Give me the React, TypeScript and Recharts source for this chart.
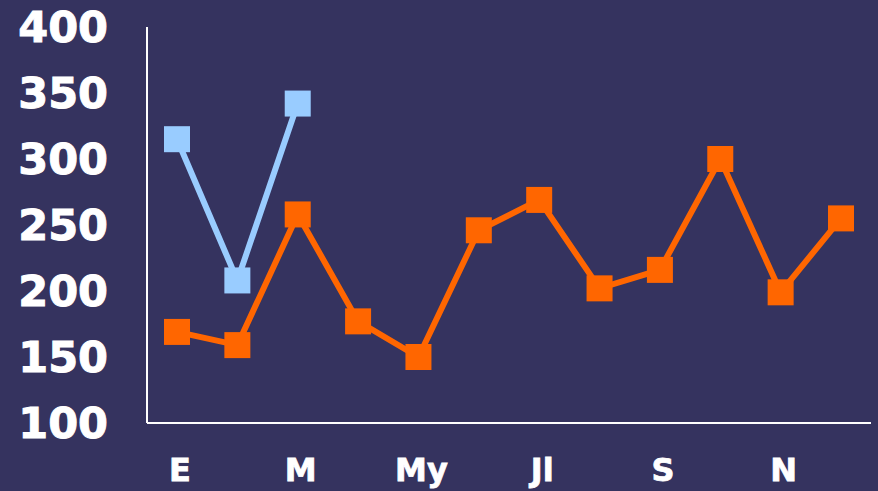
import { LineChart, Line, XAxis, YAxis } from 'recharts';

const months = ['E', 'F', 'M', 'A', 'My', 'Jn', 'Jl', 'Ag', 'S', 'O', 'N', 'D'];
const seriesOrange = [169, 159, 258, 177, 150, 246, 269, 202, 216, 300, 199, 255];
const seriesBlue: (number | null)[] = [315, 208, 342, null, null, null, null, null, null, null, null, null];
const yTicks = [100, 150, 200, 250, 300, 350, 400];

const data = months.map((m, i) => ({ month: m, orange: seriesOrange[i], blue: seriesBlue[i] }));

const SquareDot = (color: string) => (props: any) => {
  const { cx, cy, value, index } = props;
  if (value == null || cx == null || cy == null) return <g key={index} />;
  return <rect key={index} x={cx - 13} y={cy - 13} width={26} height={26} fill={color} />;
};

export default function App() {
  return (
    <div style={{ position: 'fixed', left: 0, top: 0, width: 878, height: 491, background: '#35335f' }}>
      <LineChart width={878} height={491} data={data} margin={{ top: 27, right: 7, bottom: 0, left: 0 }}>
        <XAxis
          dataKey="month"
          interval={1}
          height={68}
          padding={{ left: 30, right: 30 }}
          tickLine={false}
          tickSize={0}
          tickMargin={35}
          axisLine={{ stroke: '#ffffff', strokeWidth: 2 }}
          tick={{ fill: '#ffffff', stroke: '#ffffff', strokeWidth: 0.8, fontSize: 32, fontWeight: 'bold', fontFamily: 'DejaVu Sans', dx: 3 }}
        />
        <YAxis
          domain={[100, 400]}
          ticks={yTicks}
          width={147}
          tickLine={false}
          tickSize={0}
          tickMargin={39}
          axisLine={{ stroke: '#ffffff', strokeWidth: 2 }}
          tick={{ fill: '#ffffff', stroke: '#ffffff', strokeWidth: 1, fontSize: 43, fontWeight: 'bold', fontFamily: 'DejaVu Sans' }}
        />
        <Line
          dataKey="orange"
          stroke="#ff6600"
          strokeWidth={6}
          dot={SquareDot('#ff6600')}
          activeDot={false}
          isAnimationActive={false}
        />
        <Line
          dataKey="blue"
          stroke="#99ccff"
          strokeWidth={6}
          dot={SquareDot('#99ccff')}
          activeDot={false}
          connectNulls={false}
          isAnimationActive={false}
        />
      </LineChart>
    </div>
  );
}
